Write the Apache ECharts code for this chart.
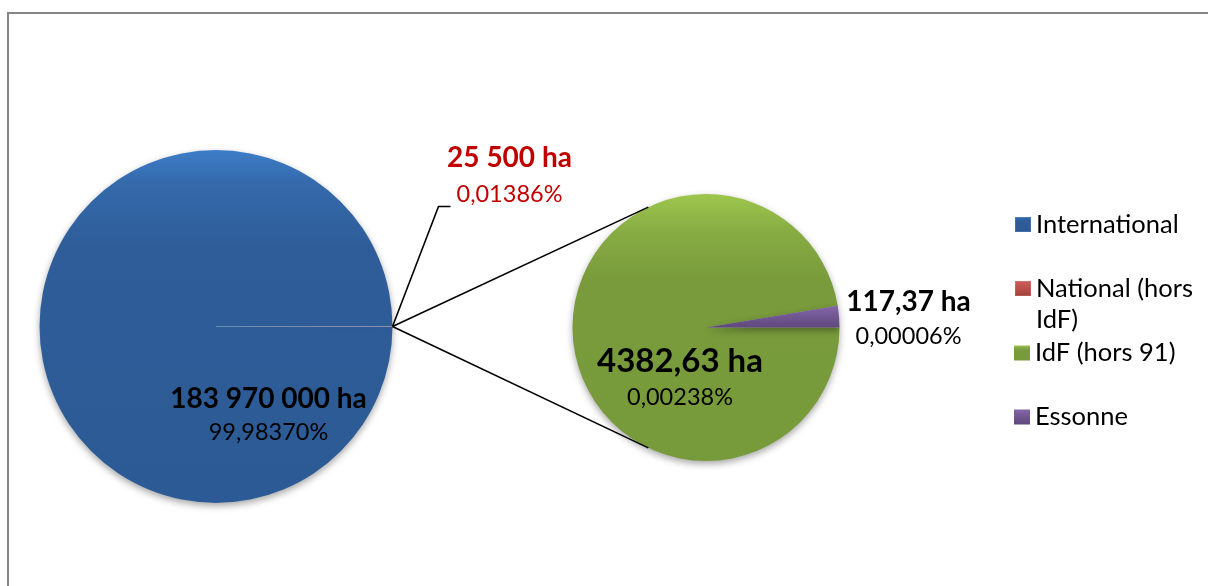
<!DOCTYPE html>
<html><head><meta charset="utf-8">
<script src="https://cdn.jsdelivr.net/npm/echarts@6/dist/echarts.min.js"></script>
<style>html,body{margin:0;padding:0;background:#fff}#c{width:1208px;height:586px}</style>
</head><body><div id="c"></div>
<script>
// ---- data ----
const mainNames = ['International', 'National (hors IdF)'];
const mainValues = [183970000, 25500];
const subNames = ['IdF (hors 91)', 'Essonne'];
const subValues = [4382.63, 117.37];
const otherName = 'IdF';
const legendNames = ['International', 'National (hors IdF)', 'IdF (hors 91)', 'Essonne'];
const legendTexts = ['International', '\nNational (hors\nIdF)', 'IdF (hors 91)', 'Essonne'];
const unit = 'ha';

// ---- layout constants ----
const LC = [216, 326.5], LR = 176.5;
const RC = [706, 327.5], RR = 133.5;
const CONN_ANGLE = 115.6 * Math.PI / 180;
const FONT = 'Lato';

const subTotal = subValues.reduce((a, b) => a + b, 0);
const grandTotal = mainValues.reduce((a, b) => a + b, 0) + subTotal;

function fmtValue(v) {
  if (Number.isInteger(v)) return String(v).replace(/\B(?=(\d{3})+(?!\d))/g, ' ') + ' ' + unit;
  return v.toFixed(2).replace('.', ',') + ' ' + unit;
}
function fmtPct(v) { return (v / grandTotal * 100).toFixed(5).replace('.', ',') + '%'; }

function grad(stops) {
  return new echarts.graphic.LinearGradient(0, 0, 0, 1, stops.map(c => ({offset: c[0], color: c[1]})));
}
const colors = {
  'International': grad([[0, '#3D7DC8'], [0.1, '#3469AA'], [0.28, '#2E5D99'], [1, '#2C5A94']]),
  'National (hors IdF)': grad([[0, '#D0605C'], [1, '#A33D3A']]),
  'IdF (hors 91)': grad([[0, '#9EC64D'], [0.14, '#88AC44'], [0.32, '#799B3B'], [1, '#779A3A']]),
  'Essonne': grad([[0, '#8466A8'], [1, '#5E487C']]),
  'IdF': '#779A3A'
};
const shadow = {shadowBlur: 7, shadowColor: 'rgba(0,0,0,0.35)', shadowOffsetY: 3};

const labelPos = {
  'International': [LC[0] + 52.5, LC[1] + 89],
  'National (hors IdF)': [LC[0] + 293.5, LC[1] - 150.5],
  'IdF (hors 91)': [RC[0] - 26, RC[1] + 52],
  'Essonne': [RC[0] + 202.5, RC[1] - 8.5]
};
const styleKey = {
  'International': ['b', 'p'], 'National (hors IdF)': ['rb', 'rp'],
  'IdF (hors 91)': ['bb', 'bp'], 'Essonne': ['b', 'p']
};
const rich = {
  b: {fontFamily: FONT, fontWeight: 'bold', fontSize: 28, lineHeight: 34, color: '#000'},
  p: {fontFamily: FONT, fontSize: 23.5, lineHeight: 34, color: '#000'},
  bb: {fontFamily: FONT, fontWeight: 'bold', fontSize: 33, lineHeight: 36, color: '#000'},
  bp: {fontFamily: FONT, fontSize: 23.5, lineHeight: 36, color: '#000'},
  rb: {fontFamily: FONT, fontWeight: 'bold', fontSize: 28, lineHeight: 36, color: '#C00000'},
  rp: {fontFamily: FONT, fontSize: 23.5, lineHeight: 36, color: '#C00000'}
};
function labelFmt(p) {
  const k = styleKey[p.name];
  if (!k) return '';
  return '{' + k[0] + '|' + fmtValue(p.value) + '}\n{' + k[1] + '|' + fmtPct(p.value) + '}';
}
function mkLayout(names) {
  return function (params) {
    const pos = labelPos[names[params.dataIndex]];
    if (!pos) return {};
    return {x: pos[0], y: pos[1], align: 'center', verticalAlign: 'middle'};
  };
}

const mainData = mainNames.map((n, i) => ({name: n, value: mainValues[i], itemStyle: {color: colors[n]}}));
mainData.push({name: otherName, value: subTotal, itemStyle: {color: colors[otherName]}, label: {show: false}});
const mainOrder = mainData.map(d => d.name);
const subData = subNames.map((n, i) => ({name: n, value: subValues[i], itemStyle: {color: colors[n]}}));

// connector + leader lines derived from pie geometry
const leftEdge = [LC[0] + LR, LC[1]];
const cTop = [RC[0] + RR * Math.cos(CONN_ANGLE), RC[1] - RR * Math.sin(CONN_ANGLE)];
const cBot = [RC[0] + RR * Math.cos(CONN_ANGLE), RC[1] + RR * Math.sin(CONN_ANGLE)];
const leaderBend = [leftEdge[0] + 46, LC[1] - 120];
const leaderEnd = [leaderBend[0] + 12, leaderBend[1]];

const legendCenters = [224.5, 288.5, 353, 417];
const legends = legendNames.map((n, i) => {
  const lh = 31;
  const lines = legendTexts[i].split('\n').length;
  return {
    data: [n], left: 1014, top: legendCenters[i] - lh * lines / 2, padding: 0,
    itemWidth: 16, itemHeight: 15, icon: 'rect', selectedMode: false,
    formatter: () => legendTexts[i],
    textStyle: {fontFamily: FONT, fontSize: 25.5, lineHeight: lh, color: '#000'}
  };
});

const chart = echarts.init(document.getElementById('c'), null, {renderer: 'canvas'});
chart.setOption({
  animation: false,
  backgroundColor: '#fff',
  legend: legends,
  graphic: [
    {type: 'rect', shape: {x: 8, y: 13, width: 1500, height: 900}, style: {fill: 'none', stroke: '#868686', lineWidth: 2}, silent: true},
    {type: 'polyline', shape: {points: [leftEdge, cTop]}, style: {stroke: '#000', lineWidth: 1.6, fill: 'none'}, z: 10},
    {type: 'polyline', shape: {points: [leftEdge, cBot]}, style: {stroke: '#000', lineWidth: 1.6, fill: 'none'}, z: 10},
    {type: 'polyline', shape: {points: [leftEdge, leaderBend, leaderEnd]}, style: {stroke: '#000', lineWidth: 1.6, fill: 'none'}, z: 10}
  ],
  series: [
    {
      type: 'pie', center: LC, radius: LR, startAngle: 0, clockwise: true,
      avoidLabelOverlap: false, silent: true,
      itemStyle: Object.assign({borderWidth: 0.5, borderColor: 'rgba(255,255,255,0.12)'}, shadow),
      label: {show: true, position: 'inside', formatter: labelFmt, rich: rich},
      labelLine: {show: false},
      labelLayout: mkLayout(mainOrder),
      data: mainData
    },
    {
      type: 'pie', center: RC, radius: RR, startAngle: 0, clockwise: true,
      avoidLabelOverlap: false, silent: true,
      itemStyle: Object.assign({borderWidth: 0}, shadow),
      label: {show: true, position: 'inside', formatter: labelFmt, rich: rich},
      labelLine: {show: false},
      labelLayout: mkLayout(subNames),
      data: subData
    }
  ]
});
</script></body></html>
